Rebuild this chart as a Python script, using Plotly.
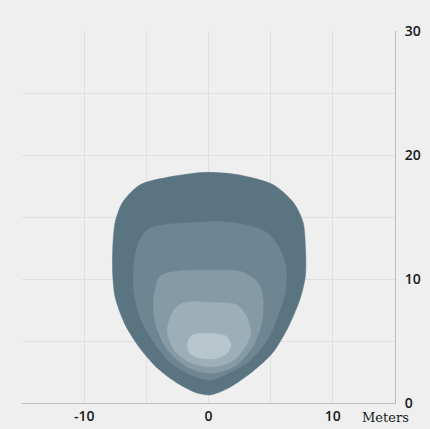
import plotly.graph_objects as go

# Contour layers (meters), outermost first
outer_x = [0.16, 1.6, 3.5, 5.2, 6.5, 7.4, 7.8, 7.8, 7.6, 6.8, 5.2, 2.4, -0.2, -3.3, -5.5, -6.9, -7.5, -7.7, -7.7, -7.5, -6.7, -5.5, -4.1, -2.5, -0.9]
outer_y = [0.65, 1.2, 2.5, 4.1, 6.3, 8.5, 10.3, 12.5, 14.6, 16.2, 17.6, 18.4, 18.6, 18.2, 17.6, 16.2, 14.6, 12.5, 10.3, 8.5, 6.3, 4.4, 2.8, 1.6, 0.8]

l2_x = [0.16, 1.4, 3.2, 4.8, 5.6, 6.2, 6.2, 5.6, 4.6, 2.4, -0.2, -4.7, -5.6, -6.0, -6.0, -5.5, -4.4, -3.1, -1.5]
l2_y = [1.85, 2.3, 3.3, 5.2, 7.1, 9.0, 11.1, 12.7, 13.8, 14.5, 14.6, 14.1, 13.0, 11.1, 9.0, 6.9, 4.9, 3.3, 2.3]

l3_x = [0.16, 2.0, 3.4, 4.2, 4.4, 4.0, 2.6, 0.16, -2.7, -3.9, -4.4, -4.3, -3.3, -1.7]
l3_y = [2.4, 2.9, 4.3, 6.1, 8.1, 9.7, 10.6, 10.7, 10.6, 10.2, 8.5, 6.5, 4.3, 2.9]

l4_x = [0.16, 1.8, 2.8, 3.4, 3.1, 2.3, 0.16, -1.9, -2.8, -3.3, -2.8, -1.5]
l4_y = [2.9, 3.3, 4.3, 5.6, 6.9, 7.9, 8.1, 8.1, 7.5, 5.9, 4.3, 3.3]

l5_x = [0.0, 1.4, 1.8, 1.5, 0.6, -0.6, -1.5, -1.7, -1.3]
l5_y = [5.6, 5.4, 4.7, 4.0, 3.6, 3.6, 4.0, 4.8, 5.5]

layers = [(outer_x, outer_y), (l2_x, l2_y), (l3_x, l3_y), (l4_x, l4_y), (l5_x, l5_y)]
layer_colors = ["#5b7482", "#6e8694", "#869aa5", "#9cafb9", "#b7c6cd"]

x_ticks = [-15, -10, -5, 0, 5, 10, 15]
x_labels = ["", "-10", "", "0", "", "10", ""]
y_ticks = [0, 5, 10, 15, 20, 25, 30]
y_labels = ["0", "", "10", "", "20", "", "30"]
unit_label = "Meters"

tick_font = dict(family="Open Sans", size=14, color="#1a1a1a", weight=600)

fig = go.Figure()
for (xs, ys), col in zip(layers, layer_colors):
    fig.add_trace(go.Scatter(
        x=xs + [xs[0]], y=ys + [ys[0]], mode="lines", fill="toself",
        fillcolor=col, line=dict(color=col, width=0.5, shape="spline", smoothing=0.8),
        hoverinfo="skip", showlegend=False))

fig.update_layout(
    width=430, height=429,
    margin=dict(l=22, r=35, t=31, b=26),
    paper_bgcolor="#efefef", plot_bgcolor="#efefef",
    showlegend=False,
    font=dict(family="Open Sans", size=13, color="#1a1a1a"),
)
fig.update_xaxes(
    range=[-15, 15], tickvals=x_ticks, ticktext=x_labels, automargin=False,
    showgrid=True, gridcolor="#e0e0e0", gridwidth=1, zeroline=False,
    showline=True, linecolor="#bdbdbd", linewidth=1, ticks="",
    tickfont=tick_font, fixedrange=True,
)
fig.update_yaxes(
    range=[0, 30], tickvals=y_ticks, ticktext=y_labels, side="right", automargin=False,
    showgrid=True, gridcolor="#e0e0e0", gridwidth=1, zeroline=False,
    showline=True, linecolor="#bdbdbd", linewidth=1, ticks="",
    ticklabelstandoff=6,
    tickfont=tick_font, fixedrange=True,
)
fig.add_annotation(
    x=14.2, xref="x", y=0, yref="paper", yanchor="top", yshift=-5,
    text=unit_label, showarrow=False,
    font=dict(family="DejaVu Serif", size=13, color="#1a1a1a"),
)

fig.write_html(
    "out.html",
    config={"displayModeBar": False},
    post_script="document.body.style.margin='0';document.body.style.background='#efefef';",
)
